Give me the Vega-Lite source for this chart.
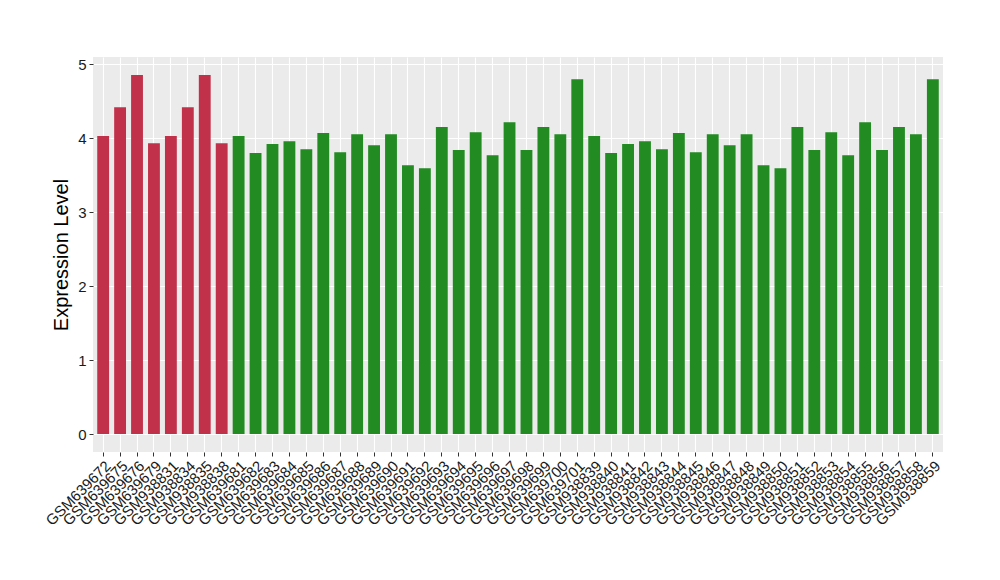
{
  "$schema": "https://vega.github.io/schema/vega-lite/v6.json",
  "autosize": {"type": "none"},
  "width": 850,
  "height": 395,
  "padding": {"left": 93, "top": 57, "right": 57, "bottom": 128},
  "background": "white",
  "config": {
    "view": {"fill": "#EBEBEB", "stroke": null},
    "font": "Liberation Sans"
  },
  "data": {
    "values": [
      {"sample": "GSM639672", "group": "A", "value": 4.03},
      {"sample": "GSM639675", "group": "A", "value": 4.42},
      {"sample": "GSM639676", "group": "A", "value": 4.855},
      {"sample": "GSM639679", "group": "A", "value": 3.93},
      {"sample": "GSM938831", "group": "A", "value": 4.03},
      {"sample": "GSM938834", "group": "A", "value": 4.42},
      {"sample": "GSM938835", "group": "A", "value": 4.855},
      {"sample": "GSM938838", "group": "A", "value": 3.93},
      {"sample": "GSM639681", "group": "B", "value": 4.03},
      {"sample": "GSM639682", "group": "B", "value": 3.80},
      {"sample": "GSM639683", "group": "B", "value": 3.92},
      {"sample": "GSM639684", "group": "B", "value": 3.96},
      {"sample": "GSM639685", "group": "B", "value": 3.85},
      {"sample": "GSM639686", "group": "B", "value": 4.07},
      {"sample": "GSM639687", "group": "B", "value": 3.81},
      {"sample": "GSM639688", "group": "B", "value": 4.055},
      {"sample": "GSM639689", "group": "B", "value": 3.905},
      {"sample": "GSM639690", "group": "B", "value": 4.055},
      {"sample": "GSM639691", "group": "B", "value": 3.635},
      {"sample": "GSM639692", "group": "B", "value": 3.595},
      {"sample": "GSM639693", "group": "B", "value": 4.15},
      {"sample": "GSM639694", "group": "B", "value": 3.84},
      {"sample": "GSM639695", "group": "B", "value": 4.08},
      {"sample": "GSM639696", "group": "B", "value": 3.77},
      {"sample": "GSM639697", "group": "B", "value": 4.215},
      {"sample": "GSM639698", "group": "B", "value": 3.84},
      {"sample": "GSM639699", "group": "B", "value": 4.15},
      {"sample": "GSM639700", "group": "B", "value": 4.055},
      {"sample": "GSM639701", "group": "B", "value": 4.797},
      {"sample": "GSM938839", "group": "B", "value": 4.03},
      {"sample": "GSM938840", "group": "B", "value": 3.80},
      {"sample": "GSM938841", "group": "B", "value": 3.92},
      {"sample": "GSM938842", "group": "B", "value": 3.96},
      {"sample": "GSM938843", "group": "B", "value": 3.85},
      {"sample": "GSM938844", "group": "B", "value": 4.07},
      {"sample": "GSM938845", "group": "B", "value": 3.81},
      {"sample": "GSM938846", "group": "B", "value": 4.055},
      {"sample": "GSM938847", "group": "B", "value": 3.905},
      {"sample": "GSM938848", "group": "B", "value": 4.055},
      {"sample": "GSM938849", "group": "B", "value": 3.635},
      {"sample": "GSM938850", "group": "B", "value": 3.595},
      {"sample": "GSM938851", "group": "B", "value": 4.15},
      {"sample": "GSM938852", "group": "B", "value": 3.84},
      {"sample": "GSM938853", "group": "B", "value": 4.08},
      {"sample": "GSM938854", "group": "B", "value": 3.77},
      {"sample": "GSM938855", "group": "B", "value": 4.215},
      {"sample": "GSM938856", "group": "B", "value": 3.84},
      {"sample": "GSM938857", "group": "B", "value": 4.15},
      {"sample": "GSM938858", "group": "B", "value": 4.055},
      {"sample": "GSM938859", "group": "B", "value": 4.797}
    ]
  },
  "mark": {"type": "bar"},
  "encoding": {
    "x": {
      "field": "sample",
      "type": "nominal",
      "sort": null,
      "scale": {"paddingInner": 0.3, "paddingOuter": 0.25},
      "axis": {
        "title": null,
        "bandPosition": 0.5,
        "grid": true,
        "gridColor": "white",
        "gridWidth": 1.1,
        "domain": false,
        "ticks": true,
        "tickSize": 4,
        "tickColor": "#333333",
        "labelAngle": -45,
        "labelAlign": "right",
        "labelBaseline": "top",
        "labelFontSize": 15,
        "labelColor": "#1a1a1a",
        "labelPadding": 2,
        "labelOverlap": false,
        "labelFont": "Liberation Sans"
      }
    },
    "y": {
      "field": "value",
      "type": "quantitative",
      "scale": {"domain": [-0.2428, 5.0978], "nice": false, "zero": false},
      "axis": {
        "title": "Expression Level",
        "titleFontSize": 20,
        "titleFontWeight": "normal",
        "titleColor": "black",
        "titleFont": "Liberation Sans",
        "titlePadding": 6,
        "values": [0, 0.5, 1, 1.5, 2, 2.5, 3, 3.5, 4, 4.5, 5],
        "format": "d",
        "labelExpr": "datum.value % 1 === 0 ? datum.label : ''",
        "grid": true,
        "gridColor": "white",
        "gridWidth": {"condition": {"test": "datum.value % 1 !== 0", "value": 0.6}, "value": 1.1},
        "domain": false,
        "tickSize": 4,
        "tickColor": {"condition": {"test": "datum.value % 1 !== 0", "value": "transparent"}, "value": "#333333"},
        "labelFontSize": 15,
        "labelColor": "#1a1a1a",
        "labelPadding": 3,
        "labelFont": "Liberation Sans"
      }
    },
    "color": {
      "field": "group",
      "type": "nominal",
      "scale": {"domain": ["A", "B"], "range": ["#C2314A", "#228B22"]},
      "legend": null
    }
  }
}
